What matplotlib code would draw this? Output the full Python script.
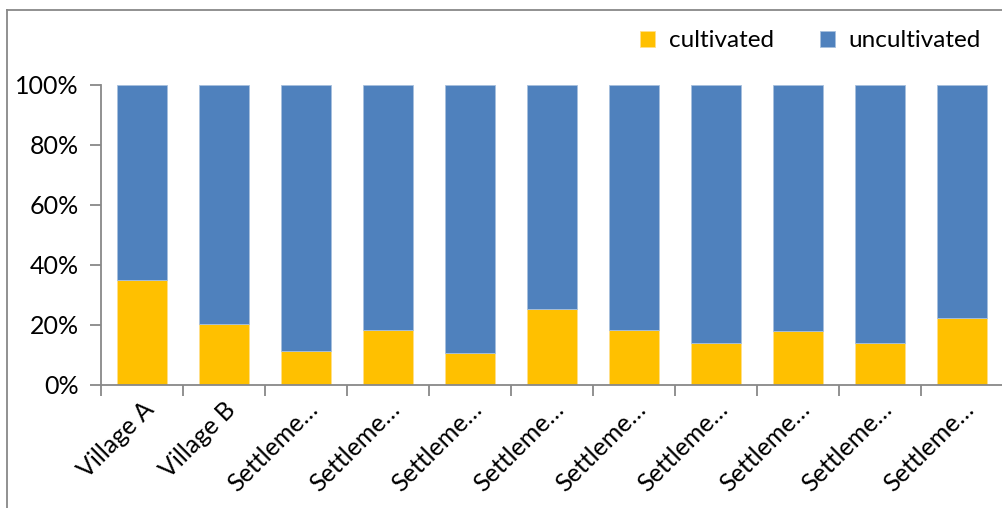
import numpy as np
import matplotlib.pyplot as plt
from matplotlib.lines import Line2D

plt.rcParams['font.family'] = ['Lato', 'DejaVu Sans']

categories = ['Village A', 'Village B'] + ['Settleme…'] * 9
cultivated = [35.0, 20.2, 11.4, 18.3, 10.7, 25.3, 18.3, 13.9, 18.0, 14.1, 22.3]
uncultivated = [100 - v for v in cultivated]
y_ticks = [0, 20, 40, 60, 80, 100]

W, H = 1002, 508
fig = plt.figure(figsize=(W / 100, H / 100), dpi=100)
ax = fig.add_axes([101 / W, 1 - 385 / H, 902 / W, 300 / H])

x = np.arange(len(categories))
ax.bar(x, cultivated, width=0.62, color='#FFC000', edgecolor='#FFE08A', linewidth=0.6,
       label='cultivated', zorder=2)
ax.bar(x, uncultivated, width=0.62, bottom=cultivated, color='#4F81BD', edgecolor='#A7C0DE',
       linewidth=0.6, label='uncultivated', zorder=2)

ax.set_xlim(-0.5, len(categories) - 0.5)
ax.set_ylim(0, 100)
ax.set_yticks(y_ticks)
ax.set_yticklabels([f'{t}%' for t in y_ticks], fontsize=18)

# category boundaries carry the ticks, labels sit at the centres
ax.set_xticks(np.arange(len(categories) + 1) - 0.5)
ax.set_xticklabels([])
ax.set_xticks(x, minor=True)
ax.set_xticklabels(categories, minor=True, rotation=45, ha='right', va='top',
                   rotation_mode='anchor', fontsize=18)
ax.tick_params(axis='x', which='minor', length=0, pad=9)
ax.tick_params(axis='x', which='major', length=8, color='#888888', width=1.3)
ax.tick_params(axis='y', length=8, color='#888888', width=1.3, pad=8)

for side in ('top', 'right'):
    ax.spines[side].set_visible(False)
for side in ('left', 'bottom'):
    ax.spines[side].set_color('#888888')
    ax.spines[side].set_linewidth(1.3)

ax.legend(loc='center right', bbox_to_anchor=(0.975, 1.147), ncol=2, frameon=False,
          fontsize=17.5, handlelength=0.62, handleheight=0.62, columnspacing=1.9,
          handletextpad=0.55, borderaxespad=0, borderpad=0)

# chart area frame (left and top edges)
fig.add_artist(Line2D([7 / W, 7 / W], [0, 1 - 10 / H], transform=fig.transFigure,
                      color='#888888', linewidth=1.3))
fig.add_artist(Line2D([7 / W, 1], [1 - 10 / H, 1 - 10 / H], transform=fig.transFigure,
                      color='#888888', linewidth=1.3))

fig.savefig('out.png', dpi=100)
